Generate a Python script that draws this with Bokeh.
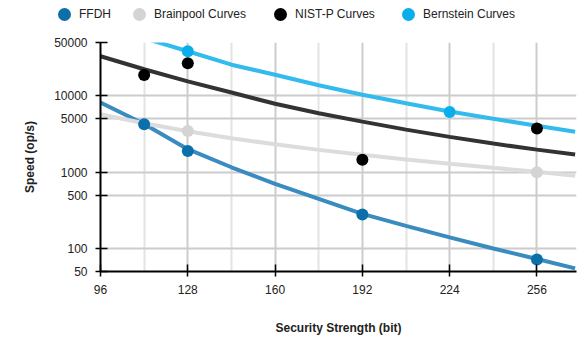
from bokeh.plotting import figure
from bokeh.layouts import column
from bokeh.models import (Range1d, FixedTicker, NumeralTickFormatter, Div)
from bokeh.embed import file_html
from bokeh.resources import INLINE

# ---- data ----
series_names = ["FFDH", "Brainpool Curves", "NIST-P Curves", "Bernstein Curves"]

# fitted curves
curve_x = [96, 112, 128, 144, 160, 176, 192, 208, 224, 240, 256, 270]
ffdh_curve = [8200, 4280, 2000, 1160, 703, 447, 284, 198, 140, 100, 73, 55]
brainpool_curve = [5740, 4370, 3430, 2780, 2320, 1960, 1690, 1470, 1290, 1140, 1010, 895]
nist_curve = [33000, 22300, 15500, 11050, 7870, 5910, 4600, 3610, 2900, 2370, 1975, 1700]
bernstein_curve_x = [112, 128, 144, 160, 176, 192, 208, 224, 240, 256, 270]
bernstein_curve = [57000, 38400, 25600, 18900, 13770, 10340, 8000, 6250, 5010, 4050, 3380]

# measured points
ffdh_x = [112, 128, 192, 256]
ffdh_y = [4250, 1900, 280, 72]
brainpool_x = [128, 256]
brainpool_y = [3470, 1000]
nist_x = [112, 128, 192, 256]
nist_y = [18700, 26800, 1460, 3730]
bernstein_x = [128, 224]
bernstein_y = [38500, 6160]

x_ticks = [96, 128, 160, 192, 224, 256]
x_minor = [112, 144, 176, 208, 240]
y_ticks = [50, 100, 500, 1000, 5000, 10000, 50000]

colors = ["#0b6faa", "#d4d4d4", "#000000", "#0aaeeb"]
line_colors = ["#3a8cc0", "#dcdcdc", "#333333", "#33bbee"]

FONT = "Liberation Sans"
TXT = "#222222"
LEG_H = 28
LEGEND_LEFTS = [58, 133, 274, 402]   # layout of the legend strip (px)

p = figure(width=582, height=339 - LEG_H, output_backend="svg", toolbar_location=None,
           y_axis_type="log", x_range=Range1d(96, 270.5), y_range=Range1d(50, 50000),
           min_border_left=100, min_border_right=6, min_border_top=42 - LEG_H,
           min_border_bottom=68)
p.outline_line_color = None

# lines
p.line(curve_x, ffdh_curve, line_color=line_colors[0], line_width=4)
p.line(curve_x, brainpool_curve, line_color=line_colors[1], line_width=4)
p.line(curve_x, nist_curve, line_color=line_colors[2], line_width=4)
p.line(bernstein_curve_x, bernstein_curve, line_color=line_colors[3], line_width=4)

# points
p.scatter(ffdh_x, ffdh_y, size=12, fill_color=colors[0], line_color=None)
p.scatter(brainpool_x, brainpool_y, size=12, fill_color=colors[1], line_color=None)
p.scatter(nist_x, nist_y, size=12, fill_color=colors[2], line_color=None)
p.scatter(bernstein_x, bernstein_y, size=12, fill_color=colors[3], line_color=None)

# axes
p.xaxis.ticker = FixedTicker(ticks=x_ticks, minor_ticks=x_minor)
p.yaxis.ticker = FixedTicker(ticks=y_ticks, minor_ticks=[])
p.yaxis.formatter = NumeralTickFormatter(format="0")
for ax in (p.xaxis, p.yaxis):
    ax.axis_line_color = "black"
    ax.axis_line_width = 2
    ax.major_tick_line_color = "black"
    ax.major_tick_line_width = 1.5
    ax.major_tick_in = 7
    ax.major_tick_out = 5
    ax.minor_tick_line_color = None
    ax.major_label_text_font = FONT
    ax.major_label_text_font_size = "12px"
    ax.major_label_text_color = TXT
    ax.axis_label_text_font = FONT
    ax.axis_label_text_font_size = "12px"
    ax.axis_label_text_font_style = "bold"
    ax.axis_label_text_color = TXT
p.xaxis.axis_label = "Security Strength (bit)"
p.yaxis.axis_label = "Speed (op/s)"
p.xaxis.major_label_standoff = 8
p.yaxis.major_label_standoff = 8
p.xaxis.axis_label_standoff = 24
p.yaxis.axis_label_standoff = 14

# grid
p.xgrid.grid_line_color = "#cccccc"
p.xgrid.grid_line_width = 2
p.xgrid.minor_grid_line_color = "#e3e3e3"
p.xgrid.minor_grid_line_width = 2
p.ygrid.grid_line_color = "#cccccc"
p.ygrid.grid_line_width = 2

# legend strip above the chart
item_html = "".join(
    f'<div style="position:absolute;left:{left}px;top:0;height:{LEG_H}px;'
    f'display:flex;align-items:center;white-space:nowrap">'
    f'<span style="display:inline-block;width:13px;height:13px;border-radius:50%;'
    f'background:{c};margin-right:8px;flex:none"></span>'
    f'<span>{n}</span></div>'
    for n, c, left in zip(series_names, colors, LEGEND_LEFTS))
legend_html = (f'<div style="position:relative;width:582px;height:{LEG_H}px;'
               f'font-family:\'{FONT}\';font-size:12px;color:{TXT};line-height:14px">'
               f'{item_html}</div>')
legend_div = Div(text=legend_html, width=582, height=LEG_H, margin=0)

layout = column(legend_div, p, spacing=0)
open("out.html", "w").write(file_html(layout, INLINE))
